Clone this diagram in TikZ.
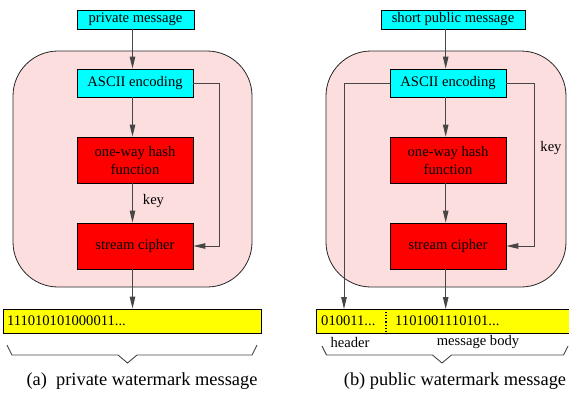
\documentclass[tikz,border=0pt]{standalone}
\usepackage{fontspec}
\setmainfont{Liberation Serif}
\usetikzlibrary{arrows.meta,calc}
\definecolor{pinkbg}{RGB}{253,222,222}
\definecolor{linegray}{RGB}{70,70,70}
\definecolor{boxcyan}{RGB}{0,255,255}
\definecolor{boxred}{RGB}{255,0,0}
\definecolor{boxyellow}{RGB}{255,255,0}
\begin{document}
\begin{tikzpicture}[x=1pt,y=-1pt,
  every node/.style={font=\rmfamily\fontsize{14.6}{18}\selectfont, inner sep=0pt},
  cbox/.style={draw=black, fill=boxcyan, minimum width=116pt, line width=0.8pt},
  rbox/.style={draw=black, fill=boxred, minimum width=116pt, minimum height=46pt, line width=0.8pt, align=center},
  ybox/.style={draw=black, fill=boxyellow, minimum height=24pt, line width=0.8pt},
  panel/.style={draw=black!85, fill=pinkbg, rounded corners=45pt, line width=0.8pt},
  arr/.style={draw=linegray, line width=0.9pt, -{Triangle[length=12pt,width=5.5pt]}},
  bracestyle/.style={draw=linegray, line width=0.9pt},
  captionfont/.style={font=\rmfamily\fontsize{18.4}{22}\selectfont}
]
\useasboundingbox (0,0) rectangle (569,392);
\clip (0,0) rectangle (569,392);

% ---------------- left panel ----------------
\draw[panel] (13,51) rectangle (252,287);
\node[cbox, minimum width=117pt, minimum height=19pt] (pm) at (135.5,19.5) {private message};
\node[cbox, minimum height=28pt] (asc) at (135,83) {ASCII encoding};
\node[rbox] (hash) at (135,160) {one-way hash\\function};
\node[rbox] (sc) at (135,246) {stream cipher};
\node[ybox, minimum width=258pt, text width=250pt, align=left] (yb1) at (132,321) {111010101000011...};

\coordinate (axL) at (132.5,0);
\coordinate (rL) at (219.5,0);
\draw[arr] (pm.south -| axL) -- (asc.north -| axL);
\draw[arr] (asc.south -| axL) -- (hash.north -| axL);
\draw[arr] (hash.south -| axL) -- node[pos=0.45, right=10pt] (keyA) {key} (sc.north -| axL);
\draw[arr] (asc.east) -- (asc.east -| rL) -- (rL |- sc.east) -- (sc.east);
\draw[arr] (sc.south -| axL) -- (yb1.north -| axL);

\draw[bracestyle] (7,345) -- (12,355) -- (118,355) -- (127.5,363) -- (137,355) -- (252,355) -- (257,345);
\node[captionfont] (capA) at (142,381) {(a)\ \ private watermark message};

% ---------------- right panel ----------------
\draw[panel] (326,51) rectangle (566,287);
\node[cbox, minimum width=144pt, minimum height=19pt] (pm2) at (453,19.5) {short public message};
\node[cbox, minimum height=28pt] (asc2) at (448,83) {ASCII encoding};
\node[rbox] (hash2) at (448,160) {one-way hash\\function};
\node[rbox] (sc2) at (448,246) {stream cipher};
\node[ybox, minimum width=256pt, anchor=north west] (yb2) at (316,309) {};
\node[anchor=west] (hd) at (321,321) {010011...};
\node[anchor=west] (bd) at (395,321) {1101001110101...};
\coordinate (dv) at (386,0);
\draw[dotted, line width=1.1pt] (yb2.north -| dv) -- (yb2.south -| dv);
\node (hl) at (350,342) {header};
\node (ml) at (478,342) {message body};

\coordinate (axR) at (445.7,0);
\coordinate (lR) at (344,0);
\coordinate (rR) at (534,0);
\draw[arr] (pm2.south -| axR) -- (asc2.north -| axR);
\draw[arr] (asc2.south -| axR) -- (hash2.north -| axR);
\draw[arr] (hash2.south -| axR) -- (sc2.north -| axR);
\draw[arr] (asc2.east) -- (asc2.east -| rR) -- node[pos=0.4, right=6pt] (keyB) {key} (rR |- sc2.east) -- (sc2.east);
\draw[arr] (asc2.west) -- (asc2.west -| lR) -- (lR |- yb2.north);
\draw[arr] (sc2.south -| axR) -- (yb2.north -| axR);

\draw[bracestyle] (322,346) -- (326.5,355) -- (432.5,355) -- (442,363) -- (451.5,355) -- (563.5,355) -- (568,346);
\node[captionfont] (capB) at (455,381) {(b) public watermark message};
\end{tikzpicture}
\end{document}
